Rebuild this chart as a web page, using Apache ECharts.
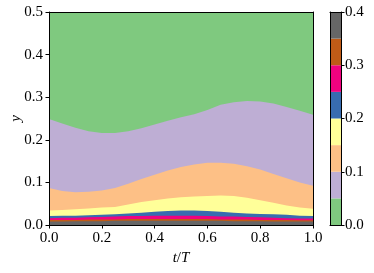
<!DOCTYPE html>
<html>
<head>
<meta charset="utf-8">
<script src="https://cdn.jsdelivr.net/npm/echarts@6/dist/echarts.min.js"></script>
<style>
html,body{margin:0;padding:0;background:#fff;}
#c{width:374px;height:273px;}
</style>
</head>
<body>
<div id="c"></div>
<script>
// time samples (t/T)
const tGrid = [0, 0.05, 0.1, 0.15, 0.2, 0.25, 0.3, 0.35, 0.4, 0.45, 0.5, 0.55, 0.6, 0.65, 0.7, 0.75, 0.8, 0.85, 0.9, 0.95, 1.0];
// y-height of each contour level boundary
const level005 = [0.249, 0.238, 0.228, 0.220, 0.216, 0.216, 0.220, 0.227, 0.236, 0.245, 0.253, 0.260, 0.270, 0.282, 0.288, 0.291, 0.290, 0.285, 0.277, 0.268, 0.259];
const level010 = [0.087, 0.080, 0.077, 0.078, 0.081, 0.087, 0.097, 0.108, 0.118, 0.128, 0.136, 0.142, 0.146, 0.146, 0.144, 0.138, 0.130, 0.120, 0.110, 0.100, 0.092];
const level015 = [0.034, 0.035, 0.037, 0.039, 0.041, 0.042, 0.048, 0.054, 0.058, 0.062, 0.065, 0.067, 0.068, 0.069, 0.068, 0.064, 0.058, 0.052, 0.046, 0.041, 0.038];
const level020 = [0.021, 0.022, 0.022, 0.023, 0.024, 0.025, 0.027, 0.029, 0.031, 0.033, 0.034, 0.034, 0.033, 0.031, 0.029, 0.027, 0.026, 0.025, 0.024, 0.022, 0.021];
const level025 = [0.016, 0.017, 0.017, 0.018, 0.019, 0.020, 0.021, 0.021, 0.022, 0.022, 0.022, 0.022, 0.021, 0.020, 0.020, 0.019, 0.018, 0.017, 0.016, 0.015, 0.015];
const level030 = [0.012, 0.012, 0.012, 0.013, 0.013, 0.013, 0.014, 0.014, 0.014, 0.014, 0.014, 0.014, 0.014, 0.013, 0.013, 0.013, 0.012, 0.012, 0.012, 0.011, 0.011];
const level035 = [0.008, 0.008, 0.009, 0.009, 0.009, 0.010, 0.010, 0.010, 0.010, 0.010, 0.010, 0.010, 0.010, 0.010, 0.009, 0.009, 0.009, 0.008, 0.008, 0.008, 0.008];
// colour bar
const cbLevels = [0, 0.05, 0.1, 0.15, 0.2, 0.25, 0.3, 0.35, 0.4];
const cbColors = ['#7fc97f', '#beaed4', '#fdc086', '#ffff99', '#386cb0', '#f0027f', '#bf5b17', '#666666'];
const xTicks = [0, 0.2, 0.4, 0.6, 0.8, 1.0];
const yTicks = [0, 0.1, 0.2, 0.3, 0.4, 0.5];
const cbTicks = [0, 0.1, 0.2, 0.3, 0.4];

const FONT = 'Liberation Serif';
const FS = 15;
const boundaries = [level005, level010, level015, level020, level025, level030, level035];

const contourSeries = boundaries.map((arr, k) => ({
  type: 'line',
  xAxisIndex: 0, yAxisIndex: 0,
  data: tGrid.map((t, i) => [t, arr[i]]),
  symbol: 'none',
  lineStyle: { width: 0 },
  areaStyle: { color: cbColors[k + 1], opacity: 1, origin: 'start' },
  itemStyle: { color: cbColors[k + 1] },
  z: 2 + k * 0.01,
  silent: true
}));

const cbSeries = cbColors.map((c, k) => ({
  type: 'bar',
  xAxisIndex: 2, yAxisIndex: 2,
  stack: 'cb',
  data: [cbLevels[k + 1] - cbLevels[k]],
  barWidth: '100%',
  itemStyle: { color: c },
  silent: true
}));

const lineOnly = (extra) => Object.assign({
  axisLine: { show: true, onZero: false, lineStyle: { color: '#000', width: 1 } },
  axisTick: { show: false },
  axisLabel: { show: false },
  splitLine: { show: false },
  z: 10
}, extra);

const labelStyle = { fontFamily: FONT, fontSize: FS, color: '#000' };

const option = {
  animation: false,
  backgroundColor: '#fff',
  grid: [
    { left: 49, right: 61, top: 12, bottom: 48, show: true, backgroundColor: cbColors[0], borderWidth: 0, containLabel: false, outerBoundsMode: 'none' },
    { left: 330, width: 11, top: 12, bottom: 48, show: false, containLabel: false, outerBoundsMode: 'none' }
  ],
  xAxis: [
    {
      gridIndex: 0, type: 'value', position: 'bottom', min: 0, max: 1, interval: 0.2,
      axisLine: { show: true, onZero: false, lineStyle: { color: '#000', width: 1 } },
      axisTick: { show: true, inside: false, length: 3.5, lineStyle: { color: '#000', width: 1 } },
      axisLabel: Object.assign({ margin: 6, formatter: v => xTicks.indexOf(+v.toFixed(1)) >= 0 ? v.toFixed(1) : '' }, labelStyle),
      splitLine: { show: false },
      name: '{i|t}/{i|T}', nameLocation: 'middle', nameGap: 26, nameMoveOverlap: false,
      nameTextStyle: { fontFamily: FONT, fontSize: FS, color: '#000', rich: { i: { fontFamily: FONT, fontSize: FS, fontStyle: 'italic' } } },
      z: 10
    },
    lineOnly({ gridIndex: 0, type: 'value', position: 'top', min: 0, max: 1 }),
    lineOnly({ gridIndex: 1, type: 'category', position: 'bottom', data: ['cb'] }),
    lineOnly({ gridIndex: 1, type: 'category', position: 'top', data: ['cb'] })
  ],
  yAxis: [
    {
      gridIndex: 0, type: 'value', position: 'left', min: 0, max: 0.5, interval: 0.1,
      axisLine: { show: true, onZero: false, lineStyle: { color: '#000', width: 1 } },
      axisTick: { show: true, inside: false, length: 3.5, lineStyle: { color: '#000', width: 1 } },
      axisLabel: Object.assign({ margin: 6, formatter: v => yTicks.indexOf(+v.toFixed(1)) >= 0 ? v.toFixed(1) : '' }, labelStyle),
      splitLine: { show: false },
      name: 'y', nameLocation: 'middle', nameGap: 25, nameRotate: 90, nameMoveOverlap: false,
      nameTextStyle: { fontFamily: FONT, fontSize: FS, color: '#000', fontStyle: 'italic' },
      z: 10
    },
    lineOnly({ gridIndex: 0, type: 'value', position: 'right', min: 0, max: 0.5 }),
    {
      gridIndex: 1, type: 'value', position: 'right', min: 0, max: 0.4, interval: 0.1,
      axisLine: { show: true, onZero: false, lineStyle: { color: '#000', width: 1 } },
      axisTick: { show: true, inside: false, length: 3.5, lineStyle: { color: '#000', width: 1 } },
      axisLabel: Object.assign({ margin: 4, formatter: v => cbTicks.indexOf(+v.toFixed(1)) >= 0 ? v.toFixed(1) : '' }, labelStyle),
      splitLine: { show: false },
      z: 10
    },
    lineOnly({ gridIndex: 1, type: 'value', position: 'left', min: 0, max: 0.4 })
  ],
  series: contourSeries.concat(cbSeries)
};

const chart = echarts.init(document.getElementById('c'), null, { renderer: 'canvas' });
chart.setOption(option);
</script>
</body>
</html>
